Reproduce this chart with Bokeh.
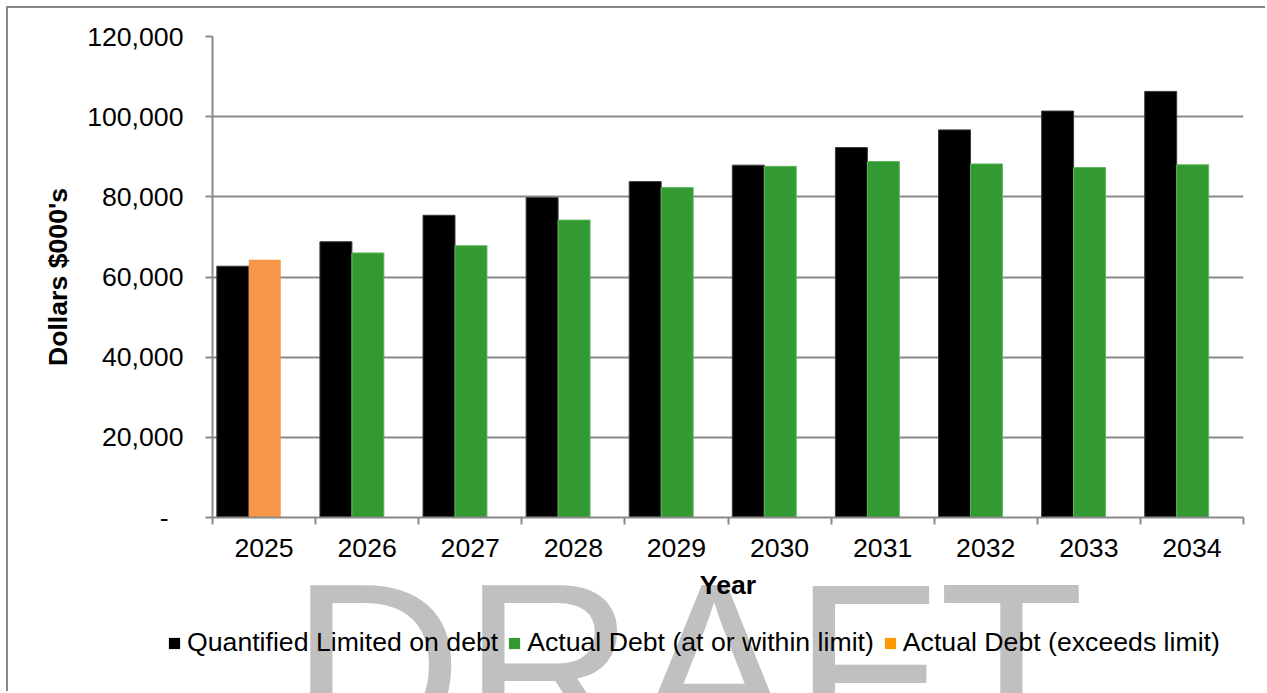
import numpy as np
import pandas as pd
from bokeh.plotting import figure
from bokeh.models import (ColumnDataSource, FixedTicker, NumeralTickFormatter,
                          Legend, LegendItem, Label, Range1d)
from bokeh.embed import file_html
from bokeh.resources import INLINE

# ---- data ----
years = ["2025", "2026", "2027", "2028", "2029", "2030", "2031", "2032", "2033", "2034"]
debt_limit = [62700, 68800, 75400, 79800, 83800, 87900, 92300, 96700, 101400, 106300]
actual_debt = [64300, 66000, 67800, 74200, 82300, 87600, 88800, 88200, 87300, 88000]
y_ticks = [0, 20000, 40000, 60000, 80000, 100000, 120000]
series_names = ["Quantified Limited on debt", "Actual Debt (at or within limit)",
                "Actual Debt (exceeds limit)"]

FONT = "Liberation Sans"
FS = "20pt"
GRAY = "#898989"
W, H = 1259, 685

df = pd.DataFrame({"year": years, "limit": debt_limit, "actual": actual_debt})
df["idx"] = np.arange(len(df))
df["x_limit"] = df["idx"] + 0.197
df["x_actual"] = df["idx"] + 0.507
within = df[df["actual"] <= df["limit"]]
exceeds = df[df["actual"] > df["limit"]]
src_all = ColumnDataSource(df)
src_within = ColumnDataSource(within)
src_exceeds = ColumnDataSource(exceeds)

# ================= main chart (transparent, on top) =================
p = figure(width=W, height=H, output_backend="svg", toolbar_location=None,
           x_range=Range1d(0, len(years)), y_range=Range1d(0, y_ticks[-1]),
           min_border_left=204, min_border_right=24, min_border_top=28,
           min_border_bottom=176)
p.outline_line_color = None
p.border_fill_alpha = 0
p.background_fill_alpha = 0
p.styles = {"position": "absolute", "left": "8px", "top": "8px", "z-index": "1",
            "box-shadow": "-2px -2px 0 0 " + GRAY}

p.vbar(x="x_limit", top="limit", width=0.31, source=src_all,
       fill_color="#000000", line_color="#3a3a3a", line_width=1)
p.vbar(x="x_actual", top="actual", width=0.31, source=src_within,
       fill_color="#339933", line_color="#5cb85c", line_width=1)
p.vbar(x="x_actual", top="actual", width=0.31, source=src_exceeds,
       fill_color="#F79646", line_color=None)

p.xgrid.visible = False
p.ygrid.grid_line_color = GRAY
p.ygrid.grid_line_width = 2
p.ygrid.ticker = FixedTicker(ticks=y_ticks)

xa = p.xaxis[0]
centers = [float(i) + 0.5 for i in df["idx"]]
xa.ticker = FixedTicker(ticks=centers, minor_ticks=[float(i) for i in range(len(years) + 1)])
xa.major_label_overrides = {c: y for c, y in zip(centers, years)}
xa.major_tick_in = 0
xa.major_tick_out = 0
xa.minor_tick_in = 0
xa.minor_tick_out = 7
xa.minor_tick_line_color = GRAY
xa.minor_tick_line_width = 2
xa.axis_line_color = GRAY
xa.axis_line_width = 2
xa.major_label_text_font = FONT
xa.major_label_text_font_size = FS
xa.major_label_text_color = "#000000"
xa.major_label_standoff = 14
xa.axis_label = "Year"
xa.axis_label_text_font = FONT
xa.axis_label_text_font_size = FS
xa.axis_label_text_font_style = "bold"
xa.axis_label_text_color = "#000000"
xa.axis_label_standoff = 10

ya = p.yaxis[0]
ya.ticker = FixedTicker(ticks=y_ticks)
ya.formatter = NumeralTickFormatter(format="0,0")
ya.major_label_overrides = {0: "-\u00a0\u00a0"}
ya.major_tick_in = 0
ya.major_tick_out = 7
ya.major_tick_line_color = GRAY
ya.major_tick_line_width = 2
ya.minor_tick_line_color = None
ya.axis_line_color = GRAY
ya.axis_line_width = 2
ya.major_label_text_font = FONT
ya.major_label_text_font_size = FS
ya.major_label_text_color = "#000000"
ya.major_label_standoff = 22
ya.axis_label = "Dollars $000's"
ya.axis_label_text_font = FONT
ya.axis_label_text_font_size = FS
ya.axis_label_text_font_style = "bold"
ya.axis_label_text_color = "#000000"
ya.axis_label_standoff = 11

# ================= background layer: watermark + legend =================
bg = figure(width=W, height=H, output_backend="svg", toolbar_location=None,
            x_range=Range1d(0, len(years)), y_range=Range1d(0, 1),
            min_border_left=0, min_border_right=0, min_border_top=0, min_border_bottom=0)
bg.axis.visible = False
bg.grid.visible = False
bg.outline_line_color = None
bg.styles = {"position": "absolute", "left": "8px", "top": "8px", "z-index": "0"}

# zero-height bars: only used for the legend swatches
s1 = bg.vbar(x="x_limit", top=0, bottom=0, width=0.31, source=src_all,
             fill_color="#000000", line_color=None)
s2 = bg.vbar(x="x_actual", top=0, bottom=0, width=0.31, source=src_within,
             fill_color="#339933", line_color=None)
s3 = bg.vbar(x="x_actual", top=0, bottom=0, width=0.31, source=src_exceeds,
             fill_color="#FF9900", line_color=None)

wm = Label(x=679, y=27, x_units="screen", y_units="screen", text="DRAFT",
           text_font=FONT, text_font_size="238px", text_color="#c0c0c0",
           text_align="center", text_baseline="alphabetic", level="underlay")
bg.add_layout(wm)

legend = Legend(items=[
    LegendItem(label=series_names[0], renderers=[s1]),
    LegendItem(label=series_names[1], renderers=[s2]),
    LegendItem(label=series_names[2], renderers=[s3]),
], orientation="horizontal", location=(159, 35),
   label_text_font=FONT, label_text_font_size=FS, label_text_color="#000000",
   glyph_width=14, glyph_height=14, label_standoff=6, spacing=9, padding=0,
   margin=0, border_line_color=None, background_fill_alpha=0)
bg.add_layout(legend)

open("out.html", "w").write(file_html([bg, p], INLINE))
